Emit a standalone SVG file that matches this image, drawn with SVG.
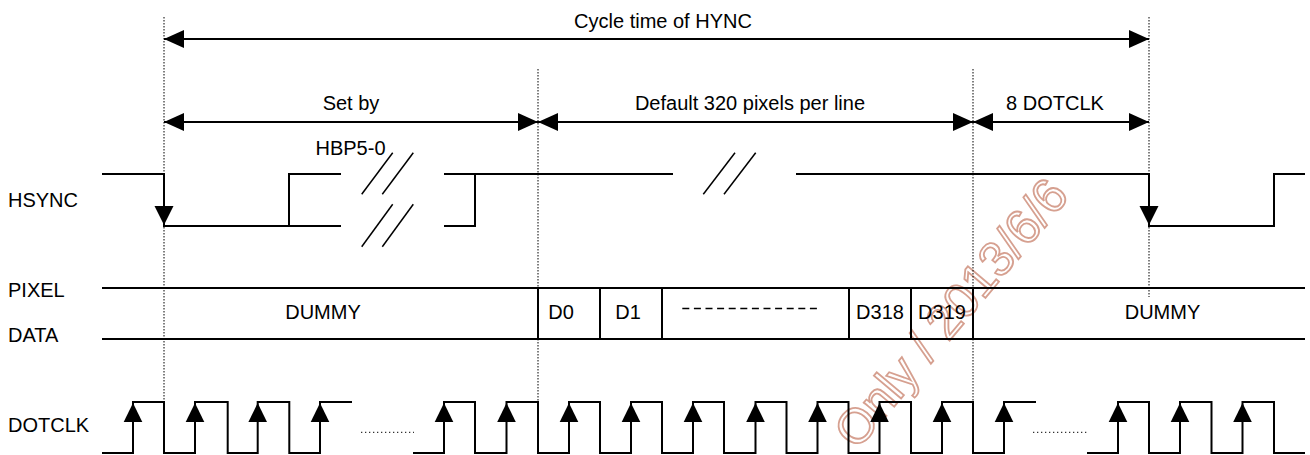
<svg xmlns="http://www.w3.org/2000/svg" xmlns:xlink="http://www.w3.org/1999/xlink" width="1310" height="455" viewBox="0 0 1310 455">
<style>
text{font-family:"Liberation Sans",Arial,sans-serif;font-size:20px;fill:#000}
.c{text-anchor:middle}
.sig{fill:none;stroke:#000;stroke-width:2}
.dim{fill:none;stroke:#000;stroke-width:2;marker-start:url(#ah);marker-end:url(#ah)}
.dot{fill:none;stroke:#000;stroke-width:1;stroke-dasharray:1.5 1.5}
.ell{fill:none;stroke:#333;stroke-width:1.3;stroke-dasharray:1.3 2.7}
.dash{fill:none;stroke:#000;stroke-width:1.5;stroke-dasharray:7 4.6}
.brk{fill:none;stroke:#000;stroke-width:1.5}
.wm{font-size:49px;fill:none;stroke:#d6a090;stroke-width:1.8}
</style>
<defs>
<marker id="ah" viewBox="0 0 20 18" markerWidth="20" markerHeight="18" refX="20" refY="9" orient="auto-start-reverse" markerUnits="userSpaceOnUse">
<path d="M0,0 L20,9 L0,18 z" fill="#000"/>
</marker>
<path id="up" d="M-9.3,19 L9.3,19 L0,0 z" fill="#000"/>
<path id="dn" d="M-9.5,0 L9.5,0 L0,19 z" fill="#000"/>
</defs>

<g id="watermark">
<text class="wm" transform="translate(857,451) rotate(-50)">Only / 2013/6/6</text>
</g>

<g id="guides">
<line class="dot" x1="164" y1="17" x2="164" y2="402"/>
<line class="dot" x1="538" y1="69" x2="538" y2="401"/>
<line class="dot" x1="973" y1="69" x2="973" y2="401"/>
<line class="dot" x1="1149" y1="17" x2="1149" y2="297"/>
</g>

<g id="connectors">
<line class="dim" x1="164" y1="39" x2="1149" y2="39"/>
<line class="dim" x1="164" y1="122" x2="538" y2="122"/>
<line class="dim" x1="538" y1="122" x2="973" y2="122"/>
<line class="dim" x1="973" y1="122" x2="1149" y2="122"/>
</g>

<g id="labels">
<text class="c" x="663" y="27.5">Cycle time of HYNC</text>
<text class="c" x="351" y="110">Set by</text>
<text class="c" x="350.5" y="155">HBP5-0</text>
<text class="c" x="750" y="109.5">Default 320 pixels per line</text>
<text class="c" x="1055" y="109.5">8 DOTCLK</text>
<text x="8" y="207">HSYNC</text>
<text x="8" y="297">PIXEL</text>
<text x="8" y="342">DATA</text>
<text x="8" y="432">DOTCLK</text>
</g>

<g id="hsync">
<path class="sig" d="M102,174 H164 V226 H341"/>
<path class="sig" d="M289,226 V174 H341"/>
<path class="sig" d="M444,174 H673"/>
<path class="sig" d="M444,226 H475 V174"/>
<path class="sig" d="M796,174 H1149 V226 H1274 V174 H1305"/>
<line class="brk" x1="361.7" y1="194.3" x2="392.7" y2="152.7"/>
<line class="brk" x1="382.3" y1="194.3" x2="413.3" y2="152.7"/>
<line class="brk" x1="361.7" y1="246.7" x2="392.7" y2="204.3"/>
<line class="brk" x1="382.3" y1="246.7" x2="413.3" y2="204.3"/>
<line class="brk" x1="703.3" y1="194.3" x2="735" y2="152.7"/>
<line class="brk" x1="724" y1="194.3" x2="755.7" y2="152.7"/>
<use xlink:href="#dn" x="164" y="206"/>
<use xlink:href="#dn" x="1149" y="206"/>
</g>

<g id="pixel-data">
<path class="sig" d="M102,288 H1305 M102,339 H1305"/>
<path class="sig" d="M538,288 V339 M600,288 V339 M662,288 V339 M849,288 V339 M911,288 V339 M973,288 V339"/>
<line class="dash" x1="682.3" y1="308.5" x2="817" y2="308.5"/>
<text class="c" x="323" y="319">DUMMY</text>
<text class="c" x="561" y="319">D0</text>
<text class="c" x="628" y="319">D1</text>
<text class="c" x="880" y="319">D318</text>
<text class="c" x="942" y="319">D319</text>
<text class="c" x="1162.5" y="319">DUMMY</text>
</g>

<g id="dotclk">
<path class="sig" d="M102,453 H133 V402 H164 V453 H195 V402 H227.7 V453 H257.7 V402 H289.3 V453 H320 V402 H352"/>
<path class="sig" d="M413,453 H444 V402 H475 V453 H506.5 V402 H538 V453 H569 V402 H600 V453 H631 V402 H662 V453 H693 V402 H724 V453 H755.5 V402 H786.5 V453 H817.5 V402 H848.5 V453 H879.5 V402 H911 V453 H942 V402 H973 V453 H1004 V402 H1036"/>
<path class="sig" d="M1087,453 H1118 V402 H1149 V453 H1180 V402 H1211.5 V453 H1242.5 V402 H1274 V453 H1305"/>
<line class="ell" x1="361" y1="432.3" x2="414" y2="432.3"/>
<line class="ell" x1="1033" y1="432.3" x2="1087" y2="432.3"/>
<use xlink:href="#up" x="133" y="403"/>
<use xlink:href="#up" x="195" y="403"/>
<use xlink:href="#up" x="257.7" y="403"/>
<use xlink:href="#up" x="320" y="403"/>
<use xlink:href="#up" x="444" y="403"/>
<use xlink:href="#up" x="506.5" y="403"/>
<use xlink:href="#up" x="569" y="403"/>
<use xlink:href="#up" x="631" y="403"/>
<use xlink:href="#up" x="693" y="403"/>
<use xlink:href="#up" x="755.5" y="403"/>
<use xlink:href="#up" x="817.5" y="403"/>
<use xlink:href="#up" x="879.5" y="403"/>
<use xlink:href="#up" x="942" y="403"/>
<use xlink:href="#up" x="1004" y="403"/>
<use xlink:href="#up" x="1118" y="403"/>
<use xlink:href="#up" x="1180" y="403"/>
<use xlink:href="#up" x="1242.5" y="403"/>
</g>
</svg>
